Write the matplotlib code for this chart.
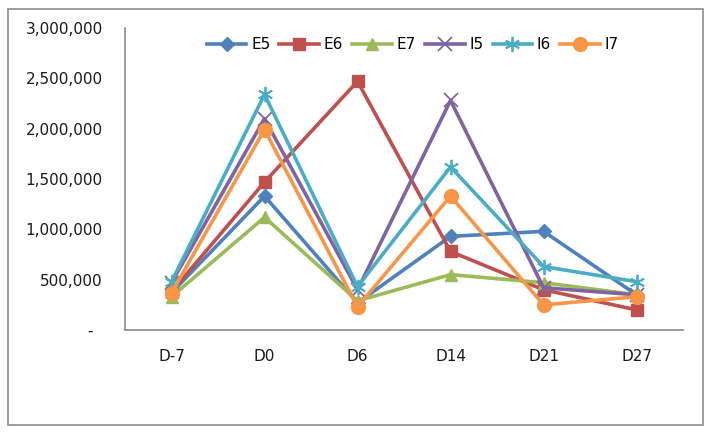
import matplotlib
matplotlib.use("Agg")
import matplotlib.pyplot as plt
from matplotlib.patches import Rectangle
from matplotlib.ticker import FuncFormatter

days = ["D-7", "D0", "D6", "D14", "D21", "D27"]

e5 = [370000, 1330000, 270000, 930000, 980000, 350000]
e6 = [380000, 1470000, 2470000, 780000, 400000, 200000]
e7 = [330000, 1120000, 290000, 550000, 470000, 350000]
i5 = [470000, 2100000, 400000, 2280000, 420000, 350000]
i6 = [480000, 2340000, 430000, 1620000, 630000, 480000]
i7 = [370000, 1990000, 230000, 1330000, 250000, 330000]

series = [
    ("E5", e5, "#4F81BD", "D", 7),
    ("E6", e6, "#C0504D", "s", 9),
    ("E7", e7, "#9BBB59", "^", 9),
    ("I5", i5, "#8064A2", "x", 10),
    ("I6", i6, "#4BACC6", (6, 2, 0), 11),
    ("I7", i7, "#F79646", "o", 10),
]


def fmt_y(v, pos):
    if v == 0:
        return "-  "
    return f"{v:,.0f}"


fig = plt.figure(figsize=(7.12, 4.34), dpi=100)
ax = fig.add_axes([0.1756, 0.2396, 0.7837, 0.6959])

x = list(range(len(days)))
for name, vals, col, mk, ms in series:
    kw = dict(markerfacecolor=col, markeredgecolor=col)
    if mk in ("x",) or isinstance(mk, tuple):
        kw["markeredgewidth"] = 1.3
    ax.plot(x, vals, color=col, lw=2.6, marker=mk, markersize=ms,
            label=name, **kw)

ax.set_xlim(-0.5, len(days) - 0.5)
ax.set_ylim(0, 3000000)
ax.set_yticks(range(0, 3000001, 500000))
ax.yaxis.set_major_formatter(FuncFormatter(fmt_y))
ax.set_xticks(x)
ax.set_xticklabels(days)
ax.tick_params(axis="both", length=0, labelsize=11, colors="#1a1a1a")
ax.tick_params(axis="y", pad=16)
ax.tick_params(axis="x", pad=14)

for s in ("top", "right"):
    ax.spines[s].set_visible(False)
for s in ("left", "bottom"):
    ax.spines[s].set_color("#8c8c8c")
    ax.spines[s].set_linewidth(1.2)

ax.legend(loc="upper left", bbox_to_anchor=(0.13, 1.0), ncol=6,
          frameon=False, fontsize=11, handlelength=2.6, columnspacing=0.6,
          handletextpad=0.3, borderaxespad=0.2)

fig.patches.append(Rectangle((8 / 712, 9 / 434), 695 / 712, 416 / 434,
                             transform=fig.transFigure, fill=False,
                             edgecolor="#8c8c8c", lw=1.2))

fig.savefig("out.png", dpi=100)
